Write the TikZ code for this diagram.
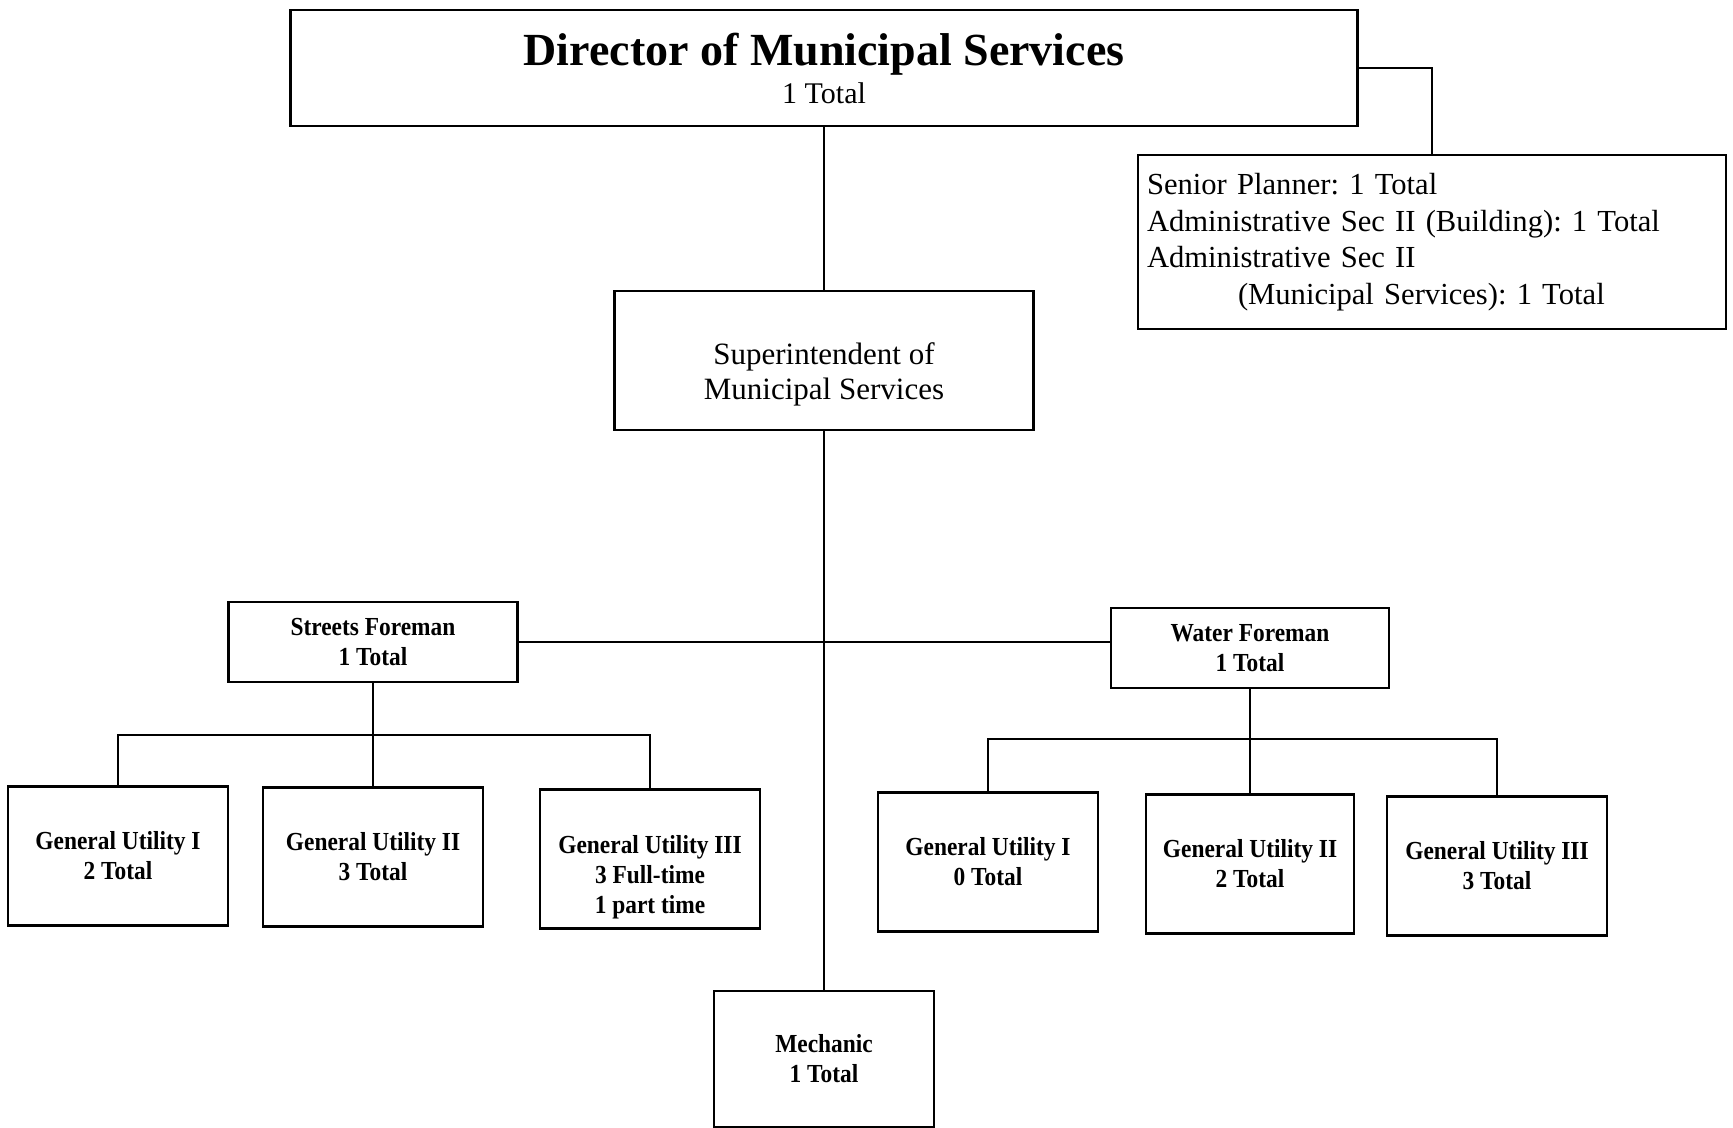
\documentclass[tikz,border=0pt]{standalone}
\usepackage{fontspec}
\setmainfont{Liberation Serif}
\newfontfamily\narrowserif[FakeStretch=0.9]{Liberation Serif}
\usetikzlibrary{positioning}

\newcommand\orgtitlestyle{\fontsize{23}{26}\selectfont\bfseries}
\newcommand\orgtextstyle{\fontsize{15.3}{18.3}\selectfont}
\newcommand\orgsmallstyle{\narrowserif\bfseries\fontsize{13}{15}\selectfont}
\newcommand\orgdrop[1]{\rule{0pt}{#1}}
\newcommand\gubwidth{110pt}
\newcommand\gubheight{69.5pt}

\tikzset{
  orgbox/.style={draw, line width=1.2pt, inner sep=0pt, align=center},
  smallbox/.style={orgbox, font=\orgsmallstyle, minimum width=\gubwidth, minimum height=\gubheight},
  orgline/.style={line width=1pt}
}

\begin{document}
\frenchspacing
\begin{tikzpicture}[x=0.5pt, y=-0.5pt]
  \useasboundingbox (0,0) rectangle (1733,1128);
  % top of the chart
  \node[orgbox, minimum width=533.5pt, minimum height=58pt, font=\fontsize{15}{19}\selectfont] (dir) at (824,68)
    {{\orgtitlestyle Director of Municipal Services}\\1 Total};
  \node[orgbox, align=left, minimum width=294pt, minimum height=87pt, text width=285pt, font=\orgtextstyle] (staff) at (1432,242)
    {Senior Planner: 1 Total\\Administrative Sec II (Building): 1 Total\\Administrative Sec II\\\hspace*{45.5pt}(Municipal Services): 1 Total};
  \node[orgbox, minimum width=209.5pt, minimum height=69.5pt, font=\fontsize{15.5}{17.7}\selectfont] (sup) at (824,360.5)
    {\orgdrop{25pt}Superintendent of\\Municipal Services};
  % foremen
  \node[smallbox, minimum width=144.5pt, minimum height=40pt] (sf) at (373,642) {Streets Foreman\\1 Total};
  \node[smallbox, minimum width=139pt, minimum height=40pt] (wf) at (1250,648) {Water Foreman\\1 Total};
  % streets crew
  \node[smallbox] (sgu1) at (118,856) {General Utility I\\2 Total};
  \node[smallbox] (sgu2) at (373,857) {General Utility II\\3 Total};
  \node[smallbox] (sgu3) at (650,859) {\orgdrop{27pt}General Utility III\\3 Full-time\\1 part time};
  % water crew
  \node[smallbox] (wgu1) at (988,862) {General Utility I\\0 Total};
  \node[smallbox, minimum width=104pt] (wgu2) at (1250,864) {General Utility II\\2 Total};
  \node[smallbox] (wgu3) at (1497,866) {General Utility III\\3 Total};
  \node[smallbox, minimum height=68pt] (mech) at (824,1059) {Mechanic\\1 Total};

  \draw[orgline] (dir.south) -- (sup.north);
  \draw[orgline] (dir.east) -| (staff.north);
  \draw[orgline] (sup.south) -- (mech.north);
  \draw[orgline] (sf.east) -- (sf.east -| wf.west);
  \coordinate (sbar) at (373,735);
  \draw[orgline] (sf.south) -- (sgu2.north);
  \draw[orgline] (sgu1.north) |- (sbar) -| (sgu3.north);
  \coordinate (wbar) at (1250,739);
  \draw[orgline] (wf.south) -- (wgu2.north);
  \draw[orgline] (wgu1.north) |- (wbar) -| (wgu3.north);
\end{tikzpicture}
\end{document}
